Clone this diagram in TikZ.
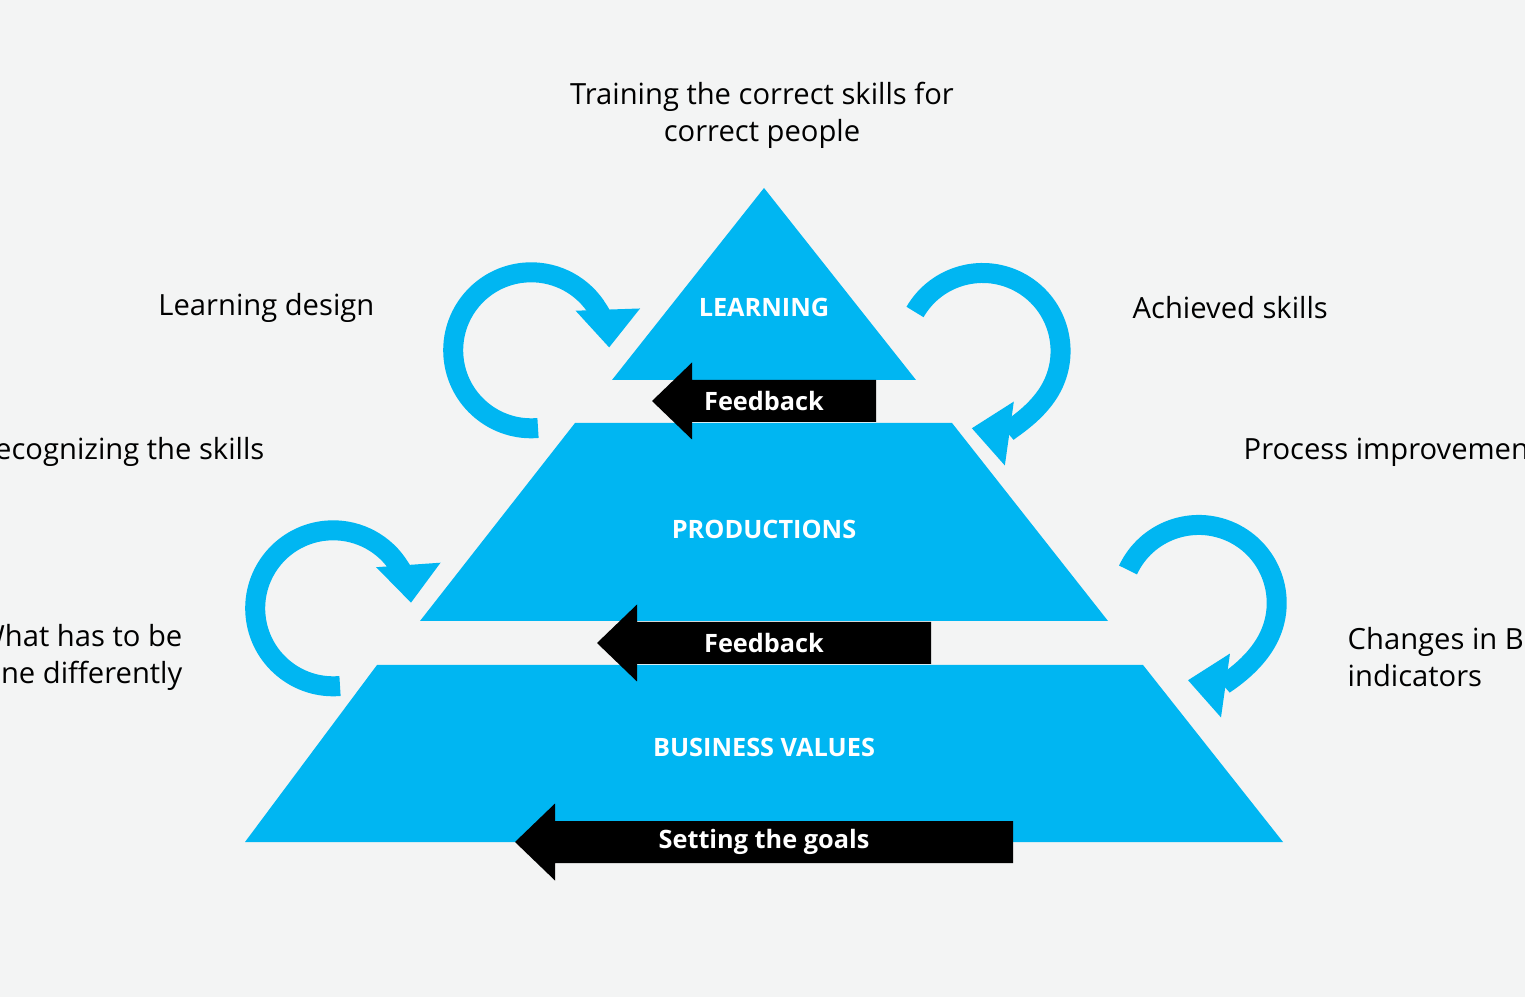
\documentclass[tikz,border=0pt]{standalone}
\usepackage{fontspec}
\setmainfont{Open Sans}
\usetikzlibrary{arrows.meta,positioning}
\definecolor{skyblue}{HTML}{00B6F2}
\definecolor{paper}{HTML}{F3F4F4}
\tikzset{
  level/.style={fill=skyblue,draw=none},
  levellabel/.style={text=white,font=\fontsize{7.2}{9}\selectfont\bfseries},
  arrowlabel/.style={text=white,inner sep=0pt,font=\fontsize{7.2}{9}\selectfont\bfseries},
  side/.style={font=\fontsize{8.3}{10.5}\selectfont,inner sep=0pt},
  loop arrow/.style={skyblue,line width=0.2cm,
    -{Triangle[length=0.38cm,width=0.62cm]}}
}
% tip x, head base x, right end x, mid y
\newcommand{\backarrow}[4]{%
  \fill (#1,#4) -- (#2,#4+0.385) -- (#2,#4+0.21) -- (#3,#4+0.21)
    -- (#3,#4-0.21) -- (#2,#4-0.21) -- (#2,#4-0.385) -- cycle;}
\begin{document}
\begin{tikzpicture}
  \fill[paper] (0,0) rectangle (15.25,-9.97);
  \useasboundingbox (0,0) rectangle (15.25,-9.97);
  \clip (0,0) rectangle (15.25,-9.97);
  % levels
  \fill[level] (7.64,-1.88) -- (9.16,-3.80) -- (6.12,-3.80) -- cycle;
  \fill[level] (5.75,-4.23) -- (9.52,-4.23) -- (11.08,-6.21) -- (4.20,-6.21) -- cycle;
  \fill[level] (3.77,-6.65) -- (11.43,-6.65) -- (12.83,-8.42) -- (2.45,-8.42) -- cycle;
  \node[levellabel] (learning) at (7.64,-3.07) {LEARNING};
  \node[levellabel] (productions) at (7.64,-5.29) {PRODUCTIONS};
  \node[levellabel] (values) at (7.64,-7.47) {BUSINESS VALUES};
  % feedback arrows
  \backarrow{6.52}{6.92}{8.76}{-4.01}
  \backarrow{5.97}{6.37}{9.31}{-6.43}
  \backarrow{5.15}{5.55}{10.13}{-8.42}
  \node[arrowlabel] (fb1) at (7.64,-4.01) {Feedback};
  \node[arrowlabel] (fb2) at (7.64,-6.43) {Feedback};
  \node[arrowlabel] (goals) at (7.64,-8.42) {Setting the goals};
  % loops
  \draw[loop arrow] (5.38,-4.28) arc[start angle=-85,end angle=-358,radius=0.78];
  \draw[loop arrow] (9.15,-3.12) arc[start angle=150,end angle=-98,radius=0.78];
  \draw[loop arrow] (3.40,-6.86) arc[start angle=-85,end angle=-356,radius=0.78];
  \draw[loop arrow] (11.28,-5.70) arc[start angle=155,end angle=-98,radius=0.78];
  % side texts
  \node[side,align=center] (top) at (7.62,-1.15) {Training the correct skills for\\correct people};
  \node[side,anchor=east] (design) at (3.75,-3.08) {Learning design};
  \node[side,anchor=west] (achieved) at (11.32,-3.08) {Achieved skills};
  \node[side,anchor=east] (recog) at (2.65,-4.52) {Recognizing the skills};
  \node[side,anchor=west] (process) at (12.43,-4.52) {Process improvement};
  \node[side,anchor=east,align=right] (what) at (1.83,-6.57) {What has to be\\done differently};
  \node[side,anchor=west,align=left] (changes) at (13.47,-6.57) {Changes in Business\\indicators};
\end{tikzpicture}
\end{document}
